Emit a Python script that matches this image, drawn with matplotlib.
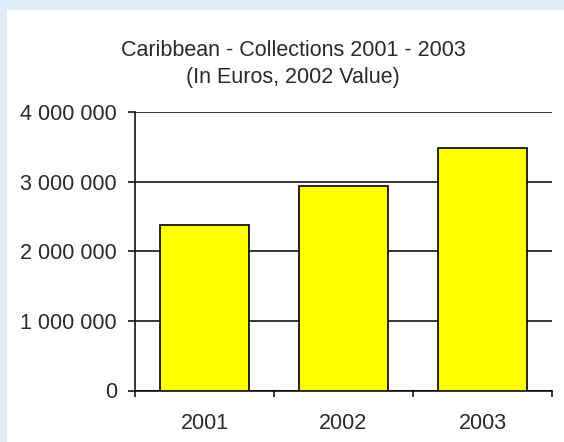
import matplotlib
matplotlib.use('Agg')
import matplotlib.pyplot as plt
from matplotlib.patches import Rectangle
from matplotlib.ticker import FuncFormatter

# Collections per year, euros at 2002 value
years = ['2001', '2002', '2003']
collections = [2380000, 2930000, 3490000]
y_ticks = [0, 1000000, 2000000, 3000000, 4000000]

W, H = 564, 442
plt.rcParams['font.family'] = ['Liberation Sans', 'DejaVu Sans']
txt = '#2a2a2a'
fs = 15.5

fig = plt.figure(figsize=(W / 100, H / 100), dpi=100)
fig.patch.set_facecolor('#e0ecf8')

# white chart area inside the blue frame
fig.add_artist(Rectangle((7 / W, 0), 1 - 7 / W, (H - 10) / H,
                         transform=fig.transFigure, facecolor='white',
                         edgecolor='none', zorder=-1))

ax = fig.add_axes([135 / W, (H - 390.5) / H, (552 - 135) / W, (390.5 - 112) / H])
ax.set_facecolor('none')

x = range(len(years))
ax.bar(x, collections, width=0.64, color='#ffff00', edgecolor='black',
       linewidth=1.2, zorder=3)

ax.set_xlim(-0.5, 2.5)
ax.set_ylim(0, 4000000)
ax.set_yticks(y_ticks)
ax.yaxis.set_major_formatter(FuncFormatter(lambda v, p: f'{int(v):,}'.replace(',', ' ')))
ax.grid(axis='y', color='black', linewidth=1.1, zorder=1)

# category boundaries get the tick marks, labels sit in the middle
ax.set_xticks([-0.5, 0.5, 1.5, 2.5])
ax.set_xticklabels([])
ax.set_xticks(list(x), minor=True)
ax.set_xticklabels(years, minor=True)
ax.tick_params(axis='x', which='major', length=4.5, width=1.1, direction='out')
ax.tick_params(axis='x', which='minor', length=0, pad=16, labelsize=fs, labelcolor=txt)
ax.tick_params(axis='y', length=5, width=1.1, pad=8, labelsize=fs, labelcolor=txt)

for s in ['top', 'right']:
    ax.spines[s].set_visible(False)
for s in ['left', 'bottom']:
    ax.spines[s].set_linewidth(1.1)

fig.text(293 / W, 1 - 50 / H, 'Caribbean - Collections 2001 - 2003',
         ha='center', va='center', fontsize=fs, color=txt)
fig.text(293 / W, 1 - 77 / H, '(In Euros, 2002 Value)',
         ha='center', va='center', fontsize=fs, color=txt)

fig.savefig('out.png', dpi=100, facecolor=fig.get_facecolor())
